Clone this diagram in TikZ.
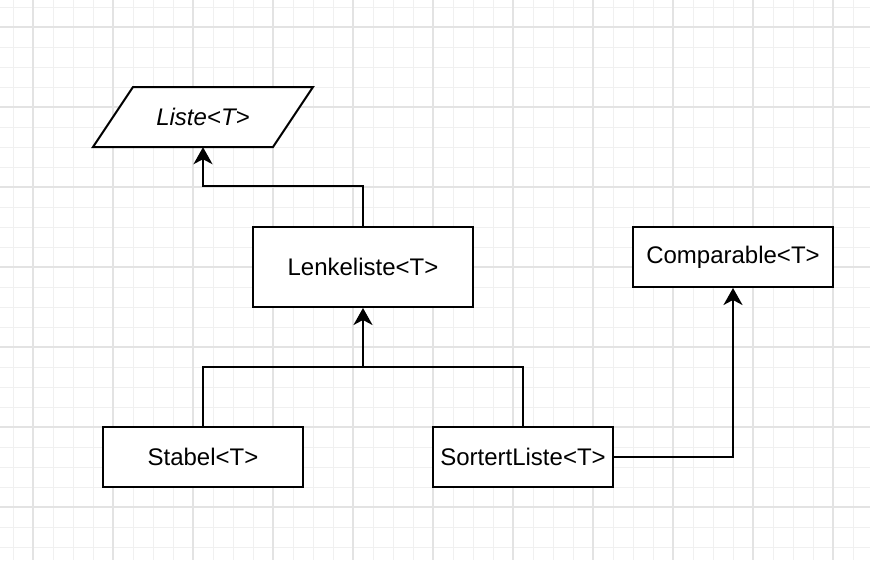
\documentclass[tikz,border=0pt]{standalone}
\usepackage{fontspec}
\setmainfont{Liberation Sans}
\usepackage{tikz}
\usetikzlibrary{arrows.meta,positioning}

\begin{document}
\begin{tikzpicture}[x=1pt,y=1pt,
  box/.style={draw=black,line width=2pt,fill=white,inner sep=0pt,minimum height=60pt,minimum width=#1},
  arr/.style={draw=black,line width=2pt,-{Stealth[length=17pt,width=19pt,inset=5pt]}},
  link/.style={draw=black,line width=2pt},
  every node/.append style={font=\fontsize{24}{28}\selectfont}]
\useasboundingbox (0,0) rectangle (870,-560);
\fill[white] (0,0) rectangle (870,-560);
\foreach \x in {13,33,...,853} \draw[line width=1pt,black!6] (\x,0) -- (\x,-560);
\foreach \y in {-7,-27,...,-547} \draw[line width=1pt,black!6] (0,\y) -- (870,\y);
\foreach \x in {33,113,...,833} \draw[line width=1.2pt,black!11] (\x,0) -- (\x,-560);
\foreach \y in {-27,-107,...,-507} \draw[line width=1.2pt,black!11] (0,\y) -- (870,\y);
\draw[line width=2pt,fill=white] (133,-87) -- (313,-87) -- (273,-147) -- (93,-147) -- cycle;
\node[inner sep=0pt,minimum width=180pt,minimum height=60pt] (liste) at (203,-117) {\itshape Liste<T>};
\node[box=220pt,minimum height=80pt] (lenke) at (363,-267) {Lenkeliste<T>};
\node[box=200pt] (comp) at (733,-257) {Comparable<T>};
\node[box=200pt] (stabel) at (203,-457) {Stabel<T>};
\node[box=180pt] (sortert) at (523,-457) {SortertListe<T>};
\coordinate (join) at (363,-367);
\draw[arr] (lenke.north) -- ++(0,40) -| (liste.south);
\draw[link] (stabel.north) |- (join) -| (sortert.north);
\draw[arr] (join) -- (lenke.south);
\draw[arr] (sortert.east) -| (comp.south);
\end{tikzpicture}
\end{document}
